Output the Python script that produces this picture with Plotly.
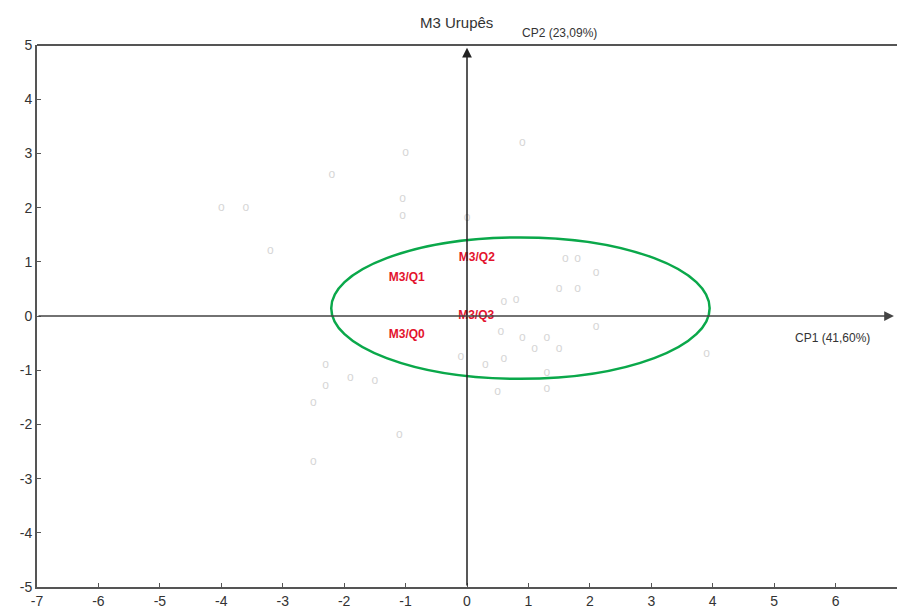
import plotly.graph_objects as go

# Highlighted observations (red)
obs_labels = ["M3/Q2", "M3/Q1", "M3/Q3", "M3/Q0"]
obs_x = [0.16, -0.98, 0.15, -0.98]
obs_y = [1.07, 0.70, 0.0, -0.35]

# Faint background observations (grey)
bg_x = [-4.0, -3.6, -1.05, -1.05, -1.0, -2.2, -3.2, 0.0, 0.6, 0.8, 1.5, 1.8, 1.6, 1.8, 2.1,
        0.55, 0.9, 1.1, 1.3, 1.5, 2.1, 0.6, 0.3, -0.1, 1.3, 1.3, 0.5, -2.3, -2.3, -1.9, -1.5,
        -2.5, -1.1, -2.5, 3.9, 0.9]
bg_y = [2.0, 2.0, 2.15, 1.85, 3.0, 2.6, 1.2, 1.8, 0.25, 0.3, 0.5, 0.5, 1.05, 1.05, 0.8,
        -0.3, -0.4, -0.6, -0.4, -0.6, -0.2, -0.8, -0.9, -0.75, -1.05, -1.35, -1.4, -0.9, -1.3, -1.15, -1.2,
        -1.6, -2.2, -2.7, -0.7, 3.2]

x_ticks = [-7, -6, -5, -4, -3, -2, -1, 0, 1, 2, 3, 4, 5, 6, 7]
y_ticks = [-5, -4, -3, -2, -1, 0, 1, 2, 3, 4, 5]

# Confidence ellipse bounds
ell_x = [-2.21, 3.95]
ell_y = [-1.16, 1.45]

fig = go.Figure()

fig.add_trace(go.Scatter(
    x=bg_x, y=bg_y, mode="text", text=["o"] * len(bg_x),
    textfont=dict(family="Liberation Sans", size=12, color="#d6d6d6"),
    hoverinfo="skip", showlegend=False))

fig.add_trace(go.Scatter(
    x=obs_x, y=obs_y, mode="text", text=["<b>%s</b>" % t for t in obs_labels],
    textfont=dict(family="Liberation Sans", size=12, color="#e3132d"),
    showlegend=False))

font = dict(family="Liberation Sans", size=14, color="#333333")

fig.update_layout(
    width=897, height=612,
    margin=dict(l=37, r=0, t=45, b=25),
    paper_bgcolor="white", plot_bgcolor="white",
    showlegend=False,
    xaxis=dict(range=[-7, 7], tickvals=x_ticks, ticktext=[str(v) for v in x_ticks],
               ticks="inside", ticklen=4, tickcolor="#555", automargin=False,
               showgrid=False, zeroline=False, showline=True, linecolor="#555", linewidth=2,
               tickfont=font),
    yaxis=dict(range=[-5, 5], tickvals=y_ticks, ticktext=[str(v) for v in y_ticks],
               ticks="inside", ticklen=4, tickcolor="#555", automargin=False,
               showgrid=False, zeroline=False, showline=True, linecolor="#555", linewidth=2,
               tickfont=font),
    shapes=[
        dict(type="line", xref="paper", yref="paper", x0=0, x1=1, y0=1, y1=1,
             line=dict(color="#555", width=2)),
        dict(type="circle", xref="x", yref="y", x0=ell_x[0], x1=ell_x[1], y0=ell_y[0], y1=ell_y[1],
             line=dict(color="#0aa84a", width=2.5)),
    ],
    annotations=[
        dict(x=0, y=4.95, ax=0, ay=-5, xref="x", yref="y", axref="x", ayref="y",
             showarrow=True, arrowhead=2, arrowsize=1.3, arrowwidth=1.5, arrowcolor="#222", text=""),
        dict(x=6.95, y=0, ax=-7, ay=0, xref="x", yref="y", axref="x", ayref="y",
             showarrow=True, arrowhead=2, arrowsize=1.3, arrowwidth=1.5, arrowcolor="#444", text=""),
        dict(x=(456 - 37) / 860, y=1 + (45 - 22) / 542, xref="paper", yref="paper", text="M3 Urupês",
             showarrow=False, xanchor="center", yanchor="middle",
             font=dict(family="Liberation Sans", size=15, color="#333")),
        dict(x=1.5, y=5.0, xref="x", yref="y", text="CP2 (23,09%)", showarrow=False,
             yanchor="bottom", yshift=3, font=dict(family="Liberation Sans", size=12, color="#333")),
        dict(x=5.95, y=-0.4, xref="x", yref="y", text="CP1 (41,60%)", showarrow=False,
             font=dict(family="Liberation Sans", size=12, color="#333")),
    ],
)

fig.write_html("out.html", config={"displayModeBar": False},
               post_script="document.body.style.margin='0';document.body.style.overflow='hidden';")
